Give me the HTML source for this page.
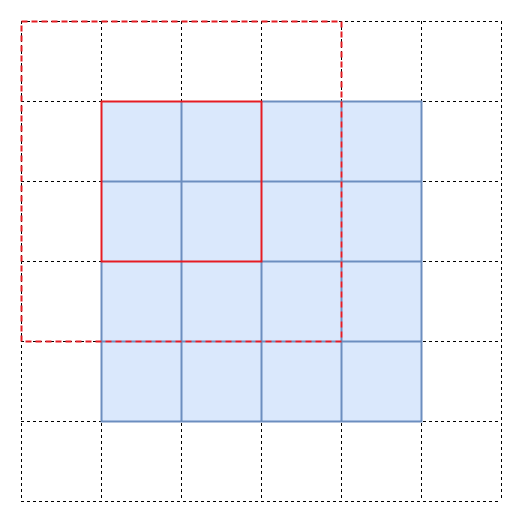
<!DOCTYPE html>
<html>
<head>
<meta charset="utf-8">
<style>
html,body{margin:0;padding:0;background:#fff;}
svg{display:block;}
</style>
</head>
<body>
<svg id="chart" width="522" height="522" viewBox="0 0 522 522" xmlns="http://www.w3.org/2000/svg"></svg>
<script>
const gridCols = 6;
const gridRows = 6;
const blueCols = [1, 2, 3, 4];
const blueRows = [1, 2, 3, 4];
const solidBox = [1, 1, 2, 2];   // col, row, width, height in cells
const dashedBox = [0, 0, 4, 4];

const NS = 'http://www.w3.org/2000/svg';
const svg = document.getElementById('chart');
const x0 = 21, y0 = 21, cell = 80;
const sx = c => x0 + c * cell;
const sy = r => y0 + r * cell;

function mk(tag, attrs) {
  const e = document.createElementNS(NS, tag);
  for (const k in attrs) e.setAttribute(k, attrs[k]);
  svg.appendChild(e);
  return e;
}

// dashed grid lines
for (let i = 0; i <= gridCols; i++) {
  const l = mk('line', {x1: sx(i) + 0.5, y1: sy(0), x2: sx(i) + 0.5, y2: sy(gridRows), stroke: '#000', 'stroke-width': 1, 'stroke-dasharray': '3,3'});
  
  
}
for (let j = 0; j <= gridRows; j++) {
  const l = mk('line', {x1: sx(0), y1: sy(j) + 0.5, x2: sx(gridCols), y2: sy(j) + 0.5, stroke: '#000', 'stroke-width': 1, 'stroke-dasharray': '3,3'});
  
  
}

// blue cells
blueRows.forEach(r => blueCols.forEach(c => {
  const rc = mk('rect', {x: sx(c) + 0.5, y: sy(r) + 0.5, width: cell, height: cell, fill: '#dae8fc', stroke: '#6c8ebf', 'stroke-width': 2});
  
  
}));

// solid red box
const sb = mk('rect', {x: sx(solidBox[0]) + 0.5, y: sy(solidBox[1]) + 0.5, width: solidBox[2] * cell, height: solidBox[3] * cell, fill: 'none', stroke: '#e51c23', 'stroke-width': 2});



// dashed red box
const db = mk('rect', {x: sx(dashedBox[0]) + 0.5, y: sy(dashedBox[1]) + 0.5, width: dashedBox[2] * cell, height: dashedBox[3] * cell, fill: 'none', stroke: '#e51c23', 'stroke-width': 2, 'stroke-dasharray': '6,4'});


</script>
</body>
</html>
